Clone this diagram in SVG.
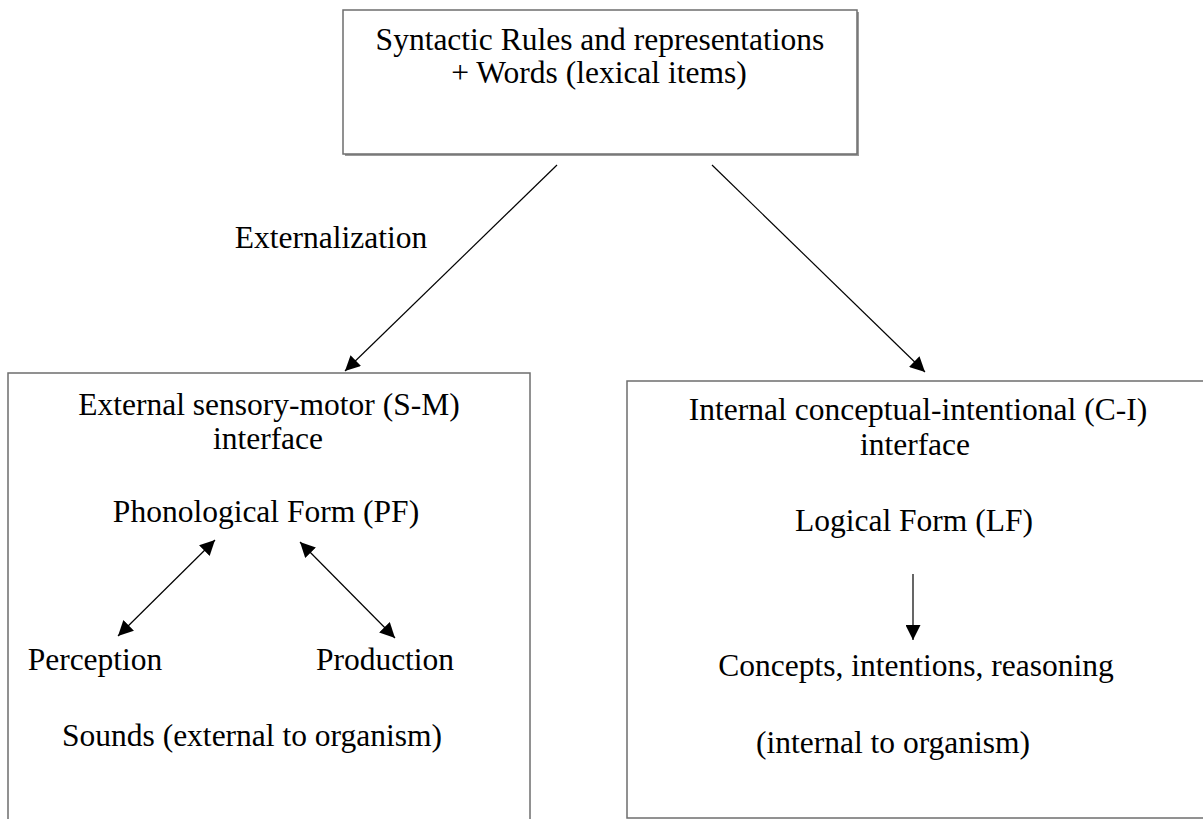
<svg xmlns="http://www.w3.org/2000/svg" width="1203" height="819" viewBox="0 0 1203 819">
<defs>
<marker id="ah" viewBox="0 0 10 10" refX="10" refY="5" markerWidth="16" markerHeight="15" markerUnits="userSpaceOnUse" orient="auto-start-reverse">
<path d="M0,0 L10,5 L0,10 z" fill="#000"/>
</marker>
<style>
.box{fill:#fff;stroke:#6e6e6e;stroke-width:1.5}
.t{font-family:"Liberation Serif","Times New Roman",serif;font-size:31.5px;fill:#000;text-anchor:middle}
.c{stroke:#000;stroke-width:1.2;fill:none}
</style>
</defs>
<rect width="1203" height="819" fill="#fff"/>
<g id="top">
<rect x="345" y="12" width="514" height="144" fill="#9a9a9a"/>
<rect class="box" x="343" y="10" width="514" height="144"/>
<text class="t" x="600" y="50">Syntactic Rules and representations</text>
<text class="t" x="599" y="83">+ Words (lexical items)</text>
</g>
<g id="label-ext">
<text class="t" x="331" y="248">Externalization</text>
</g>
<g id="left">
<rect class="box" x="8" y="373" width="522" height="460"/>
<text class="t" x="269" y="415">External sensory-motor (S-M)</text>
<text class="t" x="268" y="449">interface</text>
<text class="t" x="266" y="522">Phonological Form (PF)</text>
<text class="t" x="95" y="670">Perception</text>
<text class="t" x="385" y="670">Production</text>
<text class="t" x="252" y="746">Sounds (external to organism)</text>
</g>
<g id="right">
<rect class="box" x="627" y="381" width="590" height="437"/>
<text class="t" x="918" y="420">Internal conceptual-intentional (C-I)</text>
<text class="t" x="915" y="455">interface</text>
<text class="t" x="914" y="531">Logical Form (LF)</text>
<text class="t" x="916" y="676">Concepts, intentions, reasoning</text>
<text class="t" x="893" y="753">(internal to organism)</text>
</g>
<g id="connectors">
<line class="c" x1="557" y1="165" x2="345" y2="371" marker-end="url(#ah)"/>
<line class="c" x1="712" y1="165" x2="925" y2="372" marker-end="url(#ah)"/>
<line class="c" x1="215" y1="540" x2="118" y2="636" marker-start="url(#ah)" marker-end="url(#ah)"/>
<line class="c" x1="300" y1="542" x2="395" y2="638" marker-start="url(#ah)" marker-end="url(#ah)"/>
<line class="c" x1="913" y1="574" x2="913" y2="640" marker-end="url(#ah)"/>
</g>
</svg>
